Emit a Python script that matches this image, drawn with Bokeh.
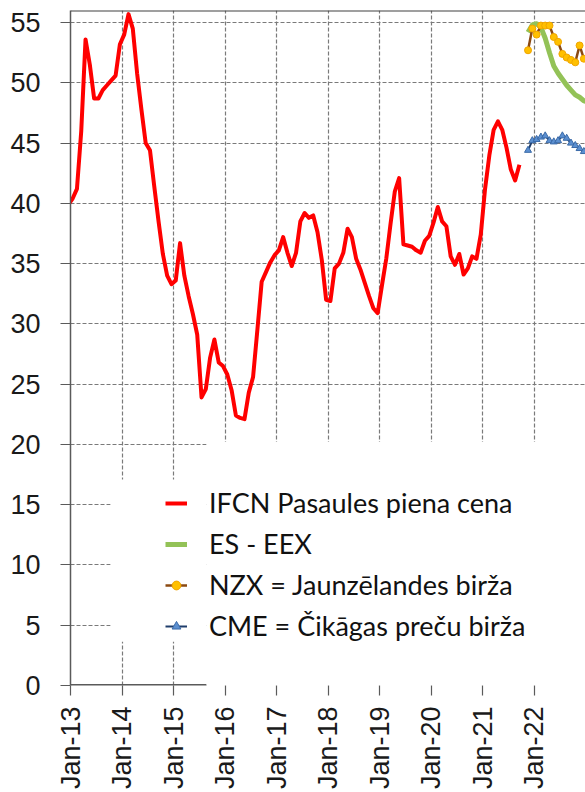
import pandas as pd
from bokeh.plotting import figure
from bokeh.models import (Range1d, FixedTicker, BoxAnnotation, Span, Legend,
                          LegendItem, ColumnDataSource)
from bokeh.embed import file_html
from bokeh.resources import INLINE

# ---------------- data ----------------
ifcn_start = "2012-12"
ifcn_values = [39.9, 40.4, 41.2, 46.0, 53.6, 51.5, 48.7, 48.7, 49.4, 49.8, 50.2, 50.6, 53.2,
               54.0, 55.7, 54.5, 50.8, 47.8, 45.0, 44.4, 41.4, 38.5, 35.8, 34.0, 33.3,
               33.6, 36.7, 34.0, 32.3, 30.8, 29.1, 23.9, 24.6, 27.2, 28.7, 26.8, 26.5,
               25.8, 24.5, 22.4, 22.2, 22.1, 24.3, 25.6, 29.5, 33.5, 34.3, 35.1, 35.7,
               36.1, 37.2, 35.9, 34.8, 35.9, 38.5, 39.2, 38.8, 39.0, 37.6, 35.3, 32.0,
               31.9, 34.6, 35.0, 35.9, 37.9, 37.2, 35.4, 34.5, 33.4, 32.3, 31.3, 30.9,
               33.2, 35.4, 38.3, 41.0, 42.1, 36.6, 36.5, 36.4, 36.1, 35.9, 36.9, 37.3,
               38.4, 39.7, 38.5, 38.1, 35.6, 34.9, 35.8, 34.1, 34.6, 35.6, 35.4, 37.4,
               41.2, 44.0, 46.1, 46.8, 46.1, 44.6, 42.8, 41.9, 43.2]

futures_start = "2021-11"
eex_values = [54.2, 54.8, 54.9, 54.6, 53.7, 52.5, 51.4, 50.8, 50.3, 49.8, 49.4, 49.0,
              48.8, 48.5, 48.4]
nzx_values = [52.7, 54.5, 54.0, 54.75, 54.75, 54.75, 53.8, 53.4, 52.4, 52.1, 51.9, 51.7,
              53.1, 52.0]
cme_values = [44.4, 45.2, 45.3, 45.5, 45.6, 45.2, 45.1, 45.2, 45.6, 45.4, 45.0, 44.8,
              44.55, 44.3]

year_ticks = list(range(2013, 2024))
year_labels = ["Jan-%02d" % (y % 100) for y in year_ticks]
value_ticks = list(range(0, 60, 5))

series_labels = ["IFCN Pasaules piena cena", "ES - EEX",
                 "NZX = Jaunzēlandes birža", "CME = Čikāgas preču birža"]


def month_x(start, n):
    periods = pd.period_range(start, periods=n, freq="M")
    return [p.year + (p.month - 0.5) / 12.0 for p in periods]


src_ifcn = ColumnDataSource(dict(x=month_x(ifcn_start, len(ifcn_values)), y=ifcn_values))
src_eex = ColumnDataSource(dict(x=month_x(futures_start, len(eex_values)), y=eex_values))
src_nzx = ColumnDataSource(dict(x=month_x(futures_start, len(nzx_values)), y=nzx_values))
src_cme = ColumnDataSource(dict(x=month_x(futures_start, len(cme_values)), y=cme_values))

# ---------------- figure ----------------
X0, X1 = 2013.0, 2022.99
Y0, Y1 = 0.0, 56.0

p = figure(width=585, height=792, output_backend="svg", toolbar_location=None,
           x_range=Range1d(X0, X1), y_range=Range1d(Y0, Y1),
           min_border_left=70, min_border_right=0, min_border_top=10,
           min_border_bottom=105, background_fill_color="white",
           border_fill_color="white")
p.outline_line_color = None

AXIS_COLOR = "#5a5a5a"
GRID_COLOR = "#7a7a7a"

# y axis
yax = p.yaxis[0]
yax.ticker = FixedTicker(ticks=value_ticks)
yax.axis_line_color = AXIS_COLOR
yax.axis_line_width = 1.5
yax.major_tick_line_color = AXIS_COLOR
yax.major_tick_line_width = 1.2
yax.major_tick_out = 10
yax.major_tick_in = 0
yax.minor_tick_line_color = None
yax.major_label_standoff = 20
yax.major_label_text_font = "Liberation Sans"
yax.major_label_text_font_size = "27px"
yax.major_label_text_color = "#1a1a1a"

# x axis
xax = p.xaxis[0]
xax.ticker = FixedTicker(ticks=year_ticks)
xax.major_label_overrides = {t: l for t, l in zip(year_ticks, year_labels)}
xax.major_label_orientation = 3.14159265 / 2
xax.axis_line_color = None
xax.major_tick_line_color = AXIS_COLOR
xax.major_tick_line_width = 1.2
xax.major_tick_out = 10
xax.major_tick_in = 0
xax.minor_tick_line_color = None
xax.major_label_standoff = 11
xax.major_label_text_font = "Liberation Sans"
xax.major_label_text_font_size = "27px"
xax.major_label_text_color = "#1a1a1a"

# grids
for g in (p.xgrid[0], p.ygrid[0]):
    g.grid_line_color = GRID_COLOR
    g.grid_line_dash = "4 2"
    g.grid_line_width = 1.2
    g.grid_line_alpha = 1.0
p.xgrid[0].ticker = FixedTicker(ticks=year_ticks)
p.ygrid[0].ticker = FixedTicker(ticks=value_ticks)

# top border
p.add_layout(Span(location=Y1, dimension="width", line_color="#404040", line_width=2))

# ---------------- series ----------------
r_ifcn = p.line("x", "y", source=src_ifcn, line_color="#ff0000", line_width=4,
                line_join="round")
r_eex = p.line("x", "y", source=src_eex, line_color="#93c257", line_width=5,
               line_join="round")
r_nzx_l = p.line("x", "y", source=src_nzx, line_color="#8b4a12", line_width=2.5)
r_nzx_m = p.scatter("x", "y", source=src_nzx, marker="circle", size=7,
                    fill_color="#ffc000", line_color="#f0a500", line_width=1)
r_cme_l = p.line("x", "y", source=src_cme, line_color="#1f3d6b", line_width=2)
r_cme_m = p.scatter("x", "y", source=src_cme, marker="triangle", size=7,
                    fill_color="#5b8fd0", line_color="#3a6aa8", line_width=1)

# white legend area (covers the grid like in the original)
BOX_X = 2015.64
p.add_layout(BoxAnnotation(left=BOX_X, right=X1, bottom=Y0, top=20.2,
                           fill_color="white", fill_alpha=1, line_color=None))
p.add_layout(BoxAnnotation(left=2013.78, right=BOX_X, bottom=3.64, top=17.1,
                           fill_color="white", fill_alpha=1, line_color=None))

# visible part of the x axis line
p.segment(x0=[X0], y0=[Y0], x1=[BOX_X], y1=[Y0], line_color=AXIS_COLOR, line_width=3)

legend = Legend(items=[
    LegendItem(label=series_labels[0], renderers=[r_ifcn]),
    LegendItem(label=series_labels[1], renderers=[r_eex]),
    LegendItem(label=series_labels[2], renderers=[r_nzx_l, r_nzx_m]),
    LegendItem(label=series_labels[3], renderers=[r_cme_l, r_cme_m]),
], location=(95, 43))
legend.background_fill_alpha = 0
legend.border_line_color = None
legend.padding = 0
legend.margin = 0
legend.spacing = 8
legend.glyph_width = 22
legend.glyph_height = 30
legend.label_height = 30
legend.label_standoff = 22
legend.label_text_font = "Lato"
legend.label_text_font_size = "27px"
legend.label_text_color = "#111111"
p.add_layout(legend, "center")

open("out.html", "w").write(file_html(p, INLINE))
